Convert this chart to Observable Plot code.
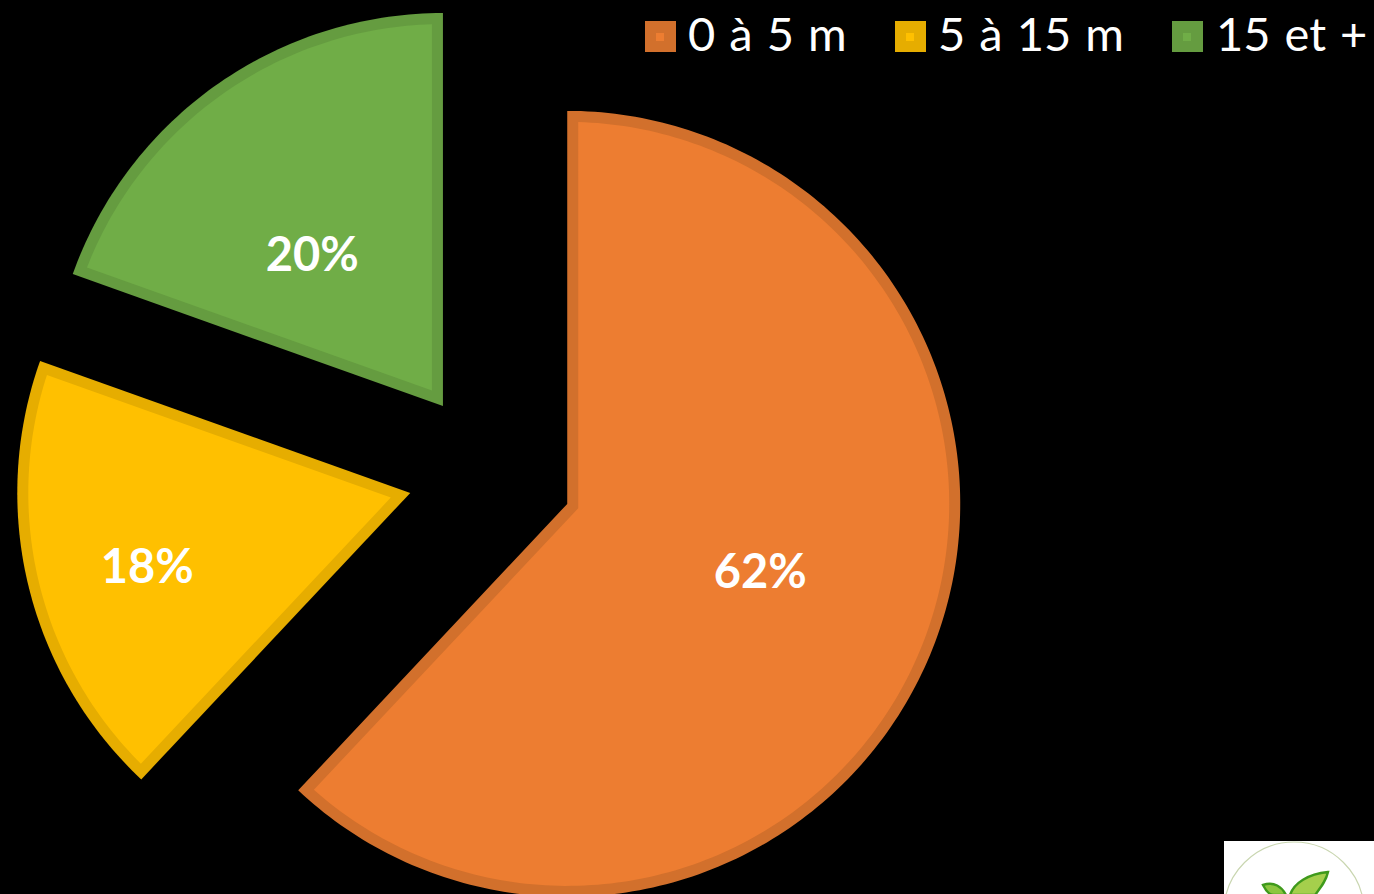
<!DOCTYPE html>
<html>
<head>
<meta charset="utf-8">
<script src="https://cdn.jsdelivr.net/npm/d3@7"></script>
<script src="https://cdn.jsdelivr.net/npm/@observablehq/plot@0.6"></script>
<style>
html,body{margin:0;padding:0;background:#000;width:1374px;height:894px;overflow:hidden;position:relative}
svg{display:block}
.lg{position:absolute;top:0;left:0;width:1374px;height:894px;pointer-events:none;font-family:Lato,"Open Sans",sans-serif;color:#fff}
.sw{position:absolute;top:21px;width:31px;height:31px}
.sw i{position:absolute;left:11px;top:12px;width:8px;height:8px;display:block}
.tx{position:absolute;top:3px;font-size:47px;line-height:60px;white-space:nowrap;word-spacing:2px}
</style>
</head>
<body>
<div id="chart"></div>
<div class="lg" id="legend"></div>
<script>
const categories = ["0 à 5 m", "5 à 15 m", "15 et +"];
const shares = [62, 18.45, 19.55];
const fills = ["#ED7D31", "#FFC000", "#70AD47"];
const edges = ["#D2702C", "#E6AD00", "#659C40"];
const legendX = [645, 895, 1172];
const legendTextX = [688, 938, 1216];

// layout of the pie (unit radius)
const W = 1374, H = 894, R = 393, cx = 490, cy = 473;
const explode = 0.21, inset = 11 / R;
const labelRadius = [0.52, 0.695, 0.51];
const labelTurn = [-2.5, -2, -5.5];

const total = d3.sum(shares);
let acc = 0;
const slices = categories.map((name, i) => {
  const a0 = acc / total * 360; acc += shares[i];
  const a1 = acc / total * 360;
  const mid = (a0 + a1) / 2;
  const rad = mid * Math.PI / 180;
  return {name, i, a0, a1, mid, ox: explode * Math.sin(rad), oy: explode * Math.cos(rad)};
});
const polar = (r, deg) => [r * Math.sin(deg * Math.PI / 180), r * Math.cos(deg * Math.PI / 180)];

function wedge(s, d) {
  const half = (s.a1 - s.a0) / 2;
  const shift = d / Math.sin(half * Math.PI / 180);
  const r = 1 - d;
  const delta = Math.asin(d / r) * 180 / Math.PI;
  const [ax, ay] = polar(shift, s.mid);
  const pts = [{name: s.name, x: s.ox + ax, y: s.oy + ay}];
  const n = Math.ceil(s.a1 - s.a0);
  for (let k = 0; k <= n; k++) {
    const [px, py] = polar(r, s.a0 + delta + (s.a1 - s.a0 - 2 * delta) * k / n);
    pts.push({name: s.name, x: s.ox + px, y: s.oy + py});
  }
  return pts;
}

const outer = slices.flatMap(s => wedge(s, 0));
const inner = slices.flatMap(s => wedge(s, inset));
const edgeOf = d => edges[categories.indexOf(d.name)];
const fillOf = d => fills[categories.indexOf(d.name)];
const labels = slices.map(s => {
  const [x, y] = polar(labelRadius[s.i], s.mid + labelTurn[s.i]);
  return {x: s.ox + x, y: s.oy + y, text: Math.round(shares[s.i]) + "%"};
});

const chart = Plot.plot({
  width: W, height: H, margin: 0,
  style: {background: "#000"},
  x: {domain: [-cx / R, (W - cx) / R], range: [0, W], axis: null},
  y: {domain: [cy / R, (cy - H) / R], range: [0, H], axis: null},
  marks: [
    Plot.line(outer, {x: "x", y: "y", z: "name", fill: edgeOf, stroke: "none", curve: "linear-closed"}),
    Plot.line(inner, {x: "x", y: "y", z: "name", fill: fillOf, stroke: "none", curve: "linear-closed"}),
    Plot.text(labels, {x: "x", y: "y", dy: 2, text: "text", fill: "#fff", fontSize: 47, fontWeight: 700,
      fontFamily: "Lato, 'Open Sans', sans-serif"})
  ]
});
document.getElementById("chart").append(chart);

const legend = document.getElementById("legend");
categories.forEach((c, i) => {
  legend.insertAdjacentHTML("beforeend",
    `<div class="sw" style="left:${legendX[i]}px;background:${edges[i]}"><i style="background:${fills[i]}"></i></div>` +
    `<div class="tx" style="left:${legendTextX[i]}px">${c}</div>`);
});
legend.insertAdjacentHTML("beforeend", `
<svg style="position:absolute;left:1224px;top:841px" width="150" height="53" viewBox="0 0 150 53">
  <rect width="150" height="53" fill="#fff"/>
  <circle cx="70" cy="71" r="70" fill="#fff" stroke="#c9d6b0" stroke-width="1.2"/>
  <path d="M62 54 C58 46 50 40 39 44 C42 50 46 54 50 54 Z" fill="#8cc63f" stroke="#3f9a1c" stroke-width="2.4"/>
  <path d="M66 54 C70 42 84 33 104 31 C102 40 97 46 91 54 Z" fill="#a5cf4c" stroke="#3f9a1c" stroke-width="2.4"/>
</svg>`);
</script>
</body>
</html>
